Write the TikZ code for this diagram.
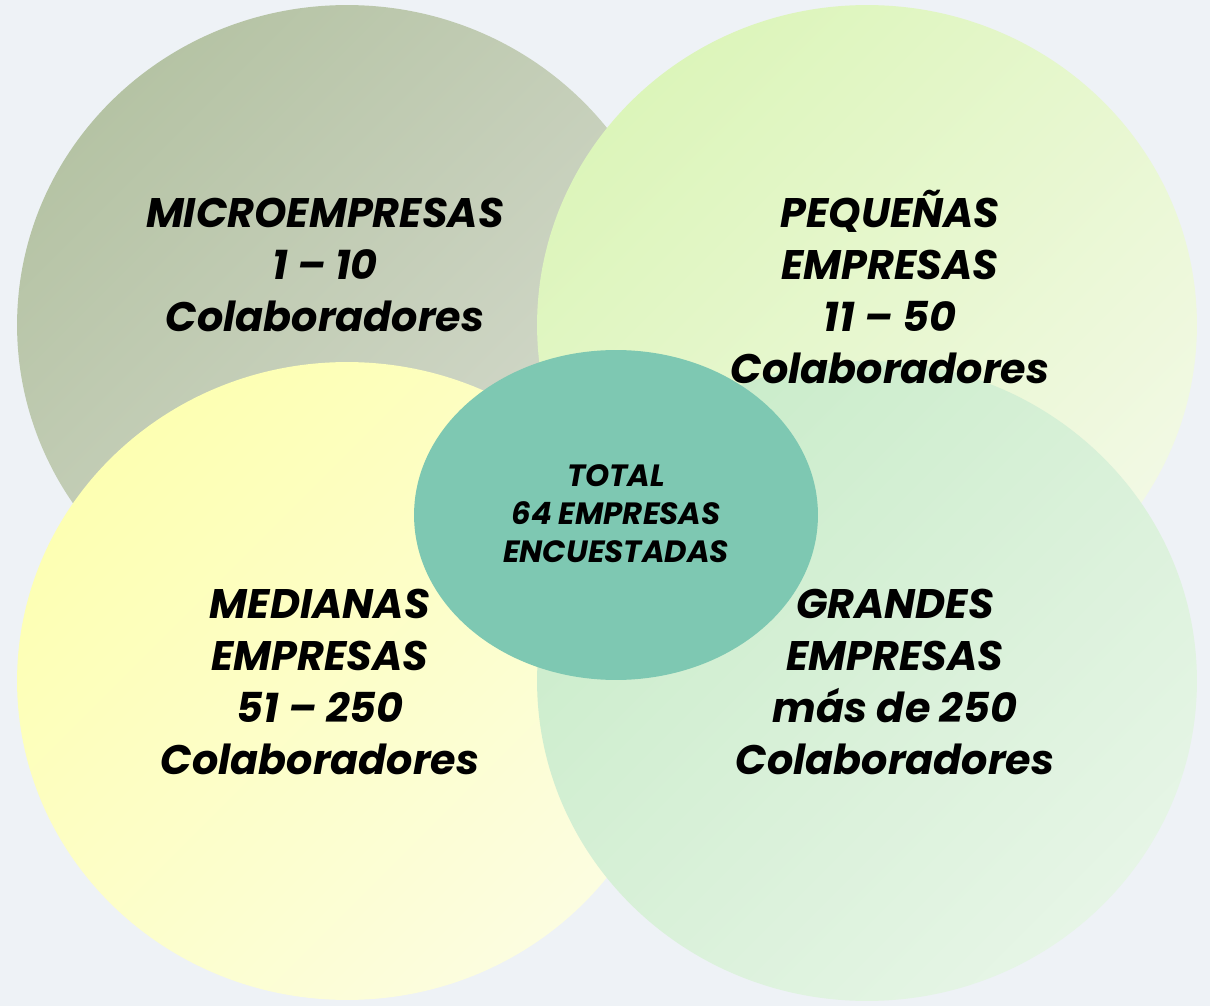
\documentclass[tikz,border=0pt]{standalone}
\usepackage{fontspec}
\newfontfamily\vennfont{Poppins}
\definecolor{fondo}{RGB}{238,242,246}
\definecolor{microA}{RGB}{181,195,164}
\definecolor{microB}{RGB}{214,219,207}
\definecolor{pequeA}{RGB}{220,245,186}
\definecolor{pequeB}{RGB}{242,249,228}
\definecolor{medianA}{RGB}{253,255,178}
\definecolor{medianB}{RGB}{252,253,224}
\definecolor{grandA}{RGB}{202,236,202}
\definecolor{grandB}{RGB}{230,245,230}
\definecolor{total}{RGB}{126,200,178}
\tikzset{
  bolsa/.style 2 args={top color=#1, bottom color=#2, shading angle=45},
  rotulo/.style={align=center, font=\vennfont\bfseries\itshape\fontsize{23.5}{29.6}\selectfont},
  rotulochico/.style={align=center, font=\vennfont\bfseries\itshape\fontsize{17.5}{21.6}\selectfont}
}
\begin{document}
\begin{tikzpicture}[x=0.02cm, y=-0.02cm]
      \fill[fondo] (0,0) rectangle (1210,1006);
      \useasboundingbox (0,0) rectangle (1210,1006);

      % los cuatro grupos
      \shade[bolsa={microA}{microB}] (347,325) ellipse (6.6cm and 6.4cm);
      \shade[bolsa={pequeA}{pequeB}] (867,325) ellipse (6.6cm and 6.4cm);
      \shade[bolsa={medianA}{medianB}] (347,681) ellipse (6.6cm and 6.38cm);
      \shade[bolsa={grandA}{grandB}] (867,681) ellipse (6.6cm and 6.4cm);

      % centro
      \fill[total] (616,515) ellipse (4.04cm and 3.3cm);

      \node[rotulo] (micro) at(325, 265){MICROEMPRESAS\\1 – 10\\Colaboradores};
      \node[rotulo] (peque) at(890, 287){PEQUEÑAS\\EMPRESAS\\11 – 50\\Colaboradores};
      \node[rotulo] (median) at(320, 682){MEDIANAS\\EMPRESAS\\51 – 250\\Colaboradores};
      \node[rotulo] (grand) at(895, 682){GRANDES\\EMPRESAS\\más de 250\\Colaboradores};
      \node[rotulochico] (tot) at(616, 514){TOTAL\\64 EMPRESAS\\ENCUESTADAS};

    \end{tikzpicture}
\end{document}
